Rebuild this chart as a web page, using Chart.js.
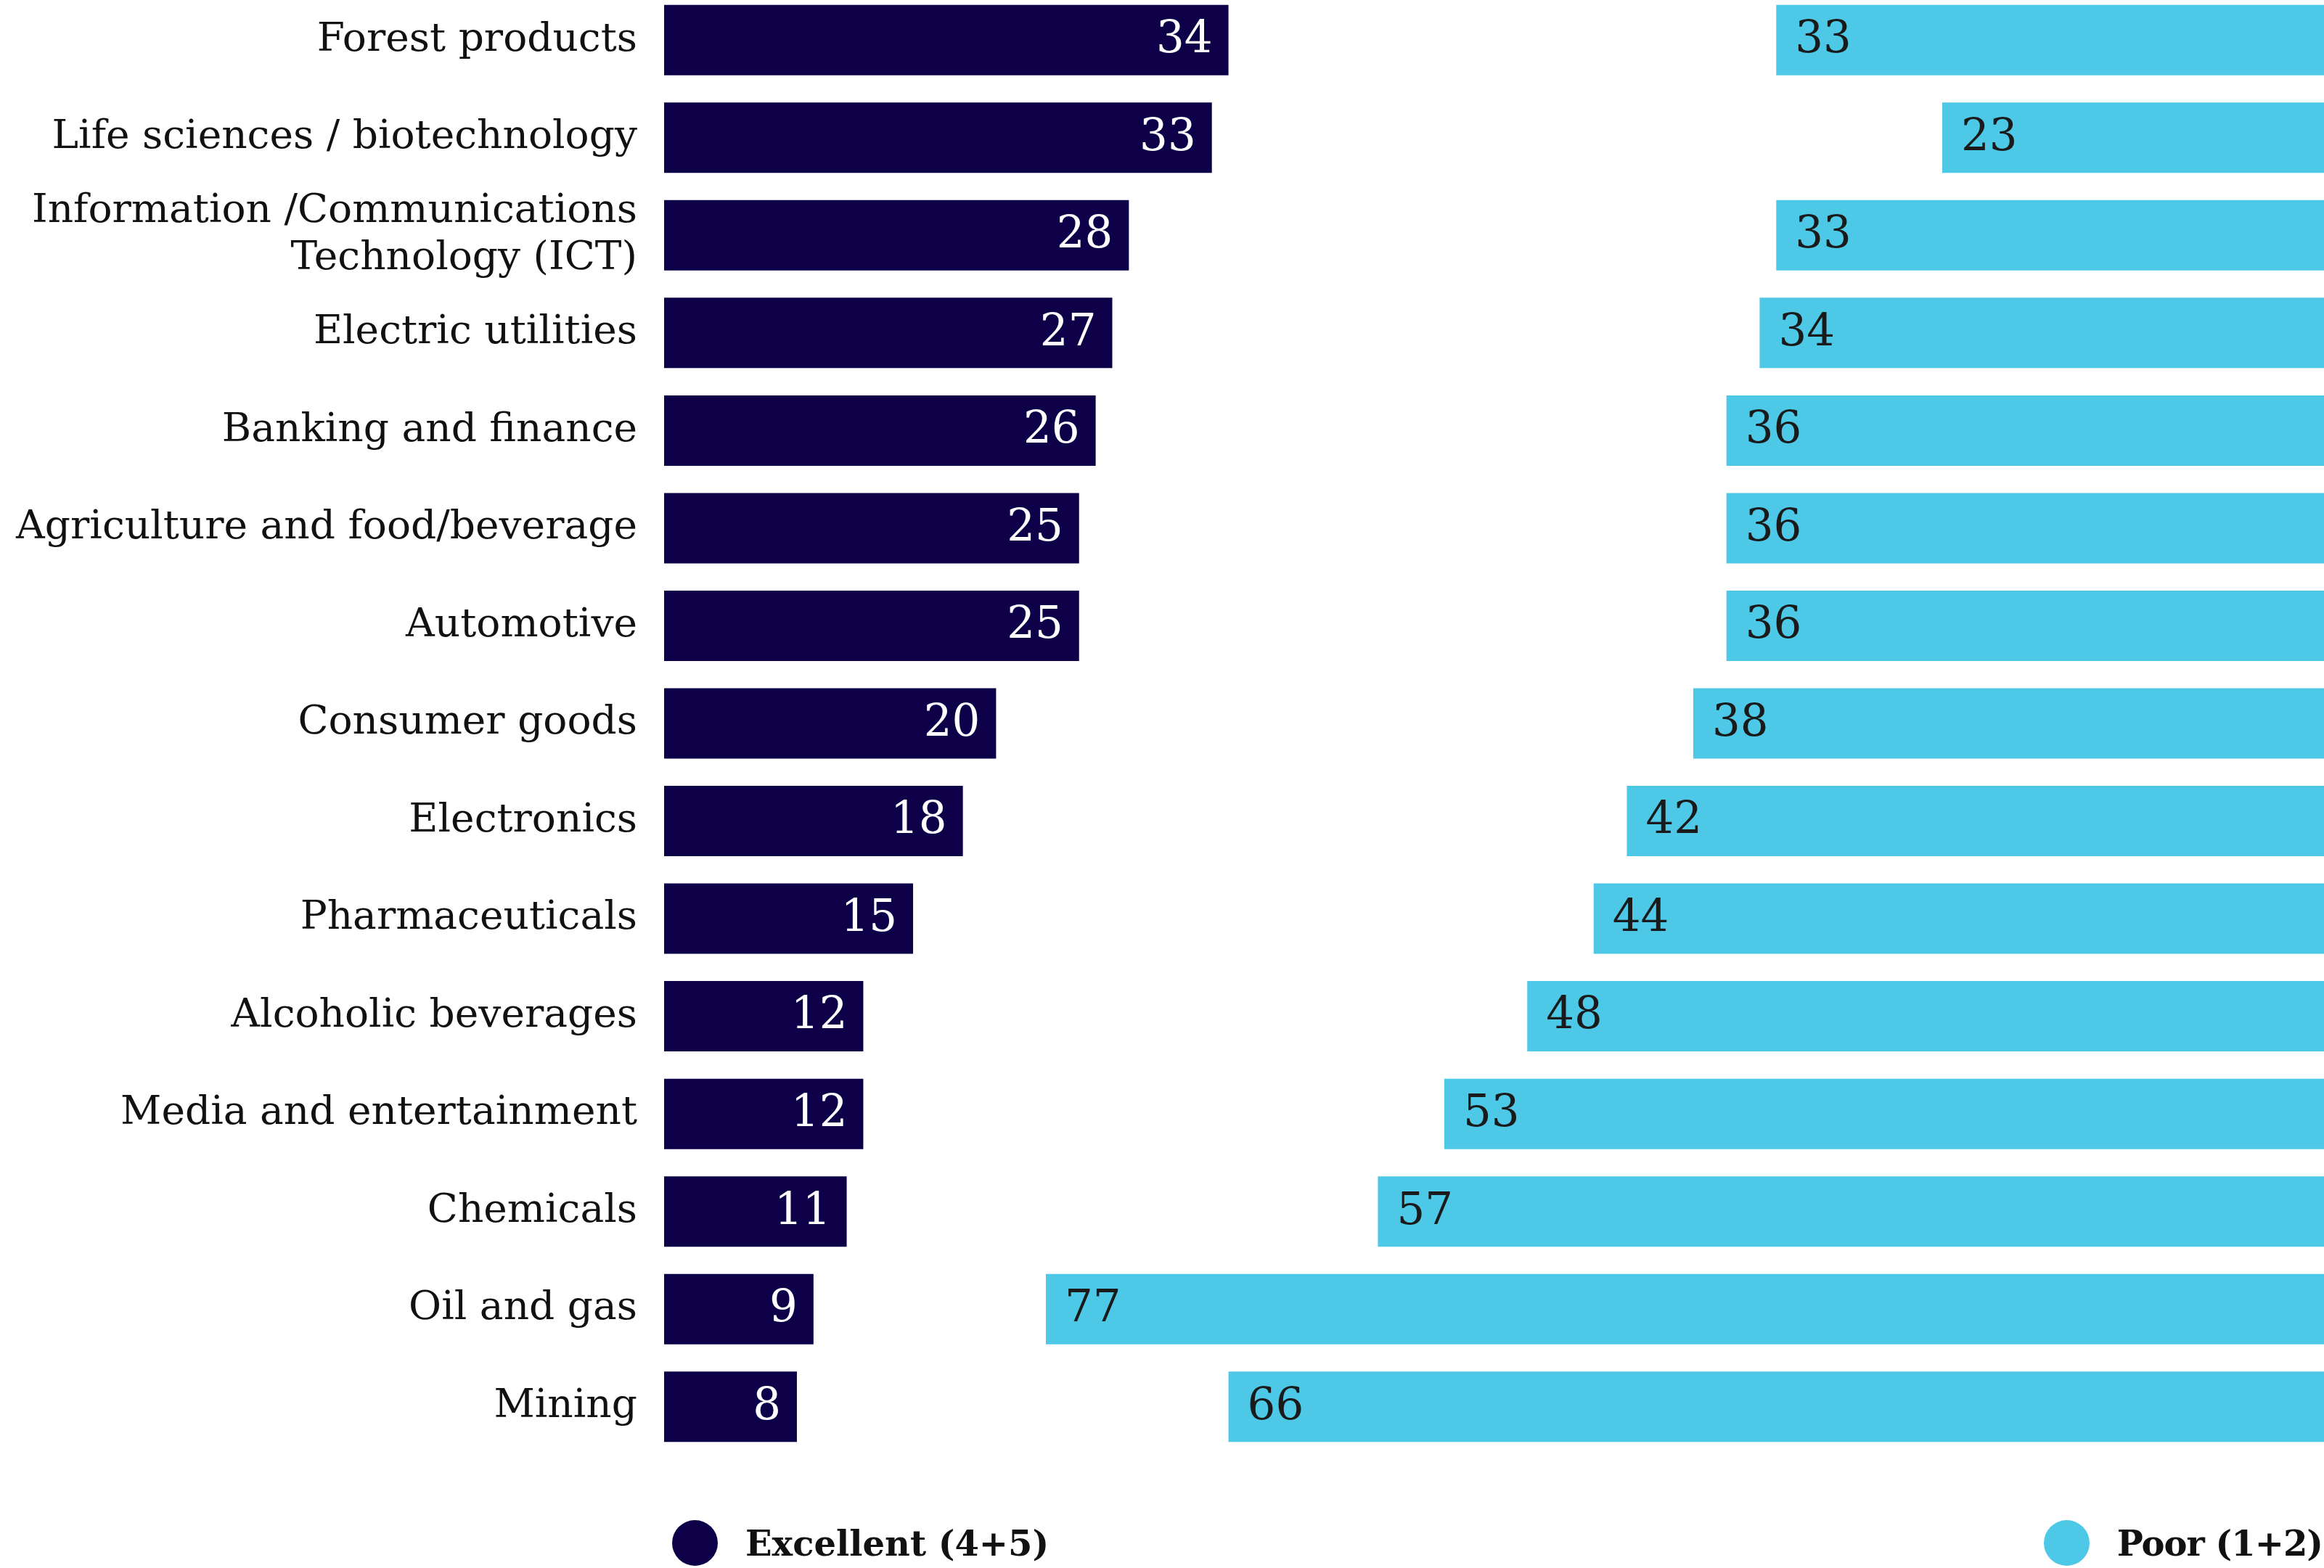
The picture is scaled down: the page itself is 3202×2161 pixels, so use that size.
<!DOCTYPE html>
<html>
<head>
<meta charset="utf-8">
<script src="https://cdn.jsdelivr.net/npm/chart.js@4.4.1/dist/chart.umd.min.js"></script>
<style>
html,body{margin:0;padding:0;background:#ffffff;}
#wrap{position:relative;width:3202px;height:2161px;overflow:hidden;}
#c{display:block;position:absolute;left:0;top:-12px;}
.leg{position:absolute;display:flex;align-items:center;font-family:"DejaVu Serif",serif;font-weight:bold;font-size:48px;color:#111111;white-space:nowrap;}
.dot{width:63px;height:63px;border-radius:50%;margin-right:38px;flex:none;}
</style>
</head>
<body>
<div id="wrap">
  <canvas id="c" width="3202" height="2173"></canvas>
  <div class="leg" id="legExcellent" style="left:926px;top:2095px;"><span class="dot" style="background:#0E0048;"></span><span id="legText0"></span></div>
  <div class="leg" id="legPoor" style="right:2px;top:2095px;"><span class="dot" style="background:#4DC9E7;"></span><span id="legText1" style="letter-spacing:-1px;"></span></div>
</div>
<script>
const categories = [
  "Forest products",
  "Life sciences / biotechnology",
  ["Information /Communications", "Technology (ICT)"],
  "Electric utilities",
  "Banking and finance",
  "Agriculture and food/beverage",
  "Automotive",
  "Consumer goods",
  "Electronics",
  "Pharmaceuticals",
  "Alcoholic beverages",
  "Media and entertainment",
  "Chemicals",
  "Oil and gas",
  "Mining"
];
const excellent = [34, 33, 28, 27, 26, 25, 25, 20, 18, 15, 12, 12, 11, 9, 8];
const poor = [33, 23, 33, 34, 36, 36, 36, 38, 42, 44, 48, 53, 57, 77, 66];
const seriesNames = ["Excellent (4+5)", "Poor (1+2)"];
const scaleMax = 100;

const NAVY = "#0E0048";
const SKY = "#4DC9E7";

document.getElementById("legText0").textContent = seriesNames[0];
document.getElementById("legText1").textContent = seriesNames[1];

const valueLabels = {
  id: "valueLabels",
  afterDatasetsDraw(chart) {
    const ctx = chart.ctx;
    ctx.save();
    ctx.font = '61px "DejaVu Serif"';
    ctx.textBaseline = "middle";
    chart.data.datasets.forEach((ds, di) => {
      const meta = chart.getDatasetMeta(di);
      const vals = di === 0 ? excellent : poor;
      meta.data.forEach((bar, i) => {
        const left = Math.min(bar.x, bar.base);
        const right = Math.max(bar.x, bar.base);
        if (di === 0) {
          ctx.fillStyle = "#ffffff";
          ctx.textAlign = "right";
          ctx.fillText(String(vals[i]), right - 22, bar.y + 1);
        } else {
          ctx.fillStyle = "#1a1a1a";
          ctx.textAlign = "left";
          ctx.fillText(String(vals[i]), left + 26, bar.y + 1);
        }
      });
    });
    ctx.restore();
  }
};

new Chart(document.getElementById("c"), {
  type: "bar",
  data: {
    labels: categories,
    datasets: [
      {
        label: seriesNames[0],
        data: excellent,
        backgroundColor: NAVY,
        grouped: false,
        categoryPercentage: 1,
        barPercentage: 0.721,
        borderWidth: 0
      },
      {
        label: seriesNames[1],
        data: poor.map(p => [scaleMax - p, scaleMax]),
        backgroundColor: SKY,
        grouped: false,
        categoryPercentage: 1,
        barPercentage: 0.721,
        borderWidth: 0
      }
    ]
  },
  options: {
    indexAxis: "y",
    responsive: false,
    animation: false,
    devicePixelRatio: 1,
    layout: { padding: { top: 0, bottom: 155, left: 0, right: 0 } },
    plugins: {
      legend: { display: false },
      tooltip: { enabled: false },
      title: { display: false }
    },
    scales: {
      x: { display: false, min: 0, max: scaleMax },
      y: {
        grid: { display: false, drawTicks: false },
        border: { display: false },
        ticks: {
          autoSkip: false,
          color: "#111111",
          padding: 37,
          font: { family: "DejaVu Serif", size: 55, lineHeight: 1.18 }
        },
        afterFit(scale) {
          scale.width = 915;
          scale.paddingTop = 0;
          scale.paddingBottom = 0;
        }
      }
    }
  },
  plugins: [valueLabels]
});
</script>
</body>
</html>
